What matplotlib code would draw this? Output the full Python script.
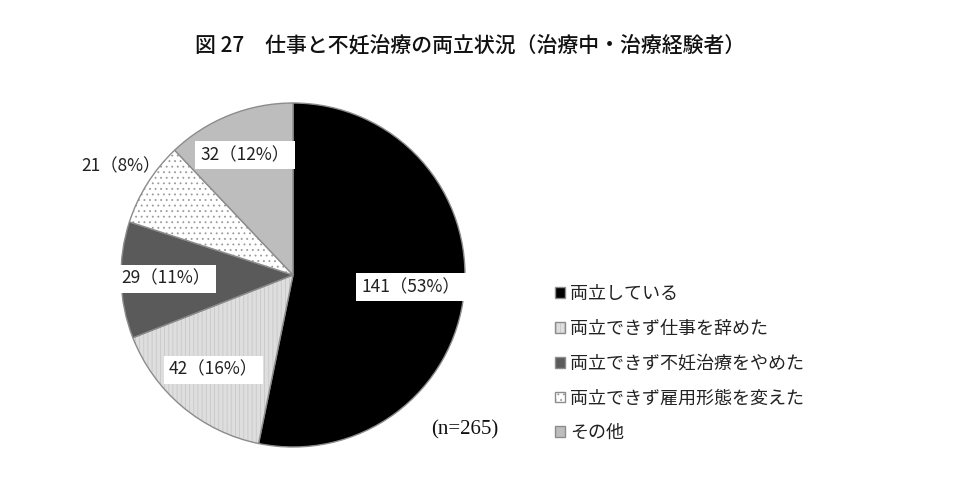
import matplotlib
matplotlib.use("Agg")
import matplotlib.pyplot as plt
import numpy as np

plt.rcParams['font.family'] = ['Noto Sans CJK JP', 'DejaVu Sans']
plt.rcParams['hatch.linewidth'] = 0.6

# データ
labels = ['両立している', '両立できず仕事を辞めた', '両立できず不妊治療をやめた',
          '両立できず雇用形態を変えた', 'その他']
counts = [141, 42, 29, 21, 32]
percents = [53, 16, 11, 8, 12]

colors = ['#000000', '#dedede', '#5a5a5a', '#ffffff', '#bdbdbd']
hatches = [None, '||||', None, '...', None]
hatch_colors = [None, '#c8c8c8', None, '#9a9a9a', None]
label_r = [0.69, 0.72, 0.74, 1.18, 0.75]
label_box = [True, True, True, False, True]

fig = plt.figure(figsize=(9.65, 4.91), dpi=100)
cx, cy, r = 293, 275, 172
ax = fig.add_axes([(cx - r) / 965, (491 - cy - r) / 491, 2 * r / 965, 2 * r / 491])

wedges, _ = ax.pie(counts, colors=colors, startangle=90, counterclock=False,
                   wedgeprops=dict(edgecolor='#8c8c8c', linewidth=1.0))
for w, h, hc in zip(wedges, hatches, hatch_colors):
    if h:
        w.set_hatch(h)
        w._hatch_color = matplotlib.colors.to_rgba(hc)
ax.set_xlim(-1.0, 1.0)
ax.set_ylim(-1.0, 1.0)
ax.set_aspect('auto')

for w, c, p, rr, box in zip(wedges, counts, percents, label_r, label_box):
    ang = np.radians((w.theta1 + w.theta2) / 2)
    x, y = rr * np.cos(ang), rr * np.sin(ang)
    kw = dict(boxstyle='square,pad=0.3', fc='white', ec='none') if box else None
    ax.text(x, y, f'{c}（{p}%）', ha='center', va='center', fontsize=12.5,
            color='#222222', bbox=kw, clip_on=False)

fig.text(470 / 965, 1 - 45 / 491, '図 27　仕事と不妊治療の両立状況（治療中・治療経験者）',
         ha='center', va='center', fontsize=15, fontweight='medium', color='#111111')
fig.text(465 / 965, 1 - 430 / 491, '(n=265)', ha='center', va='center',
         fontsize=15, family=['Liberation Serif', 'DejaVu Serif'], color='#111111')

leg = fig.legend(wedges, labels, loc='upper left', bbox_to_anchor=(546 / 965, 1 - 276 / 491),
                 frameon=False, fontsize=13, handlelength=0.55, handleheight=0.55,
                 handletextpad=0.3, labelspacing=0.93, borderpad=0)
for t in leg.get_texts():
    t.set_color('#222222')

fig.savefig('out.png', dpi=100)
